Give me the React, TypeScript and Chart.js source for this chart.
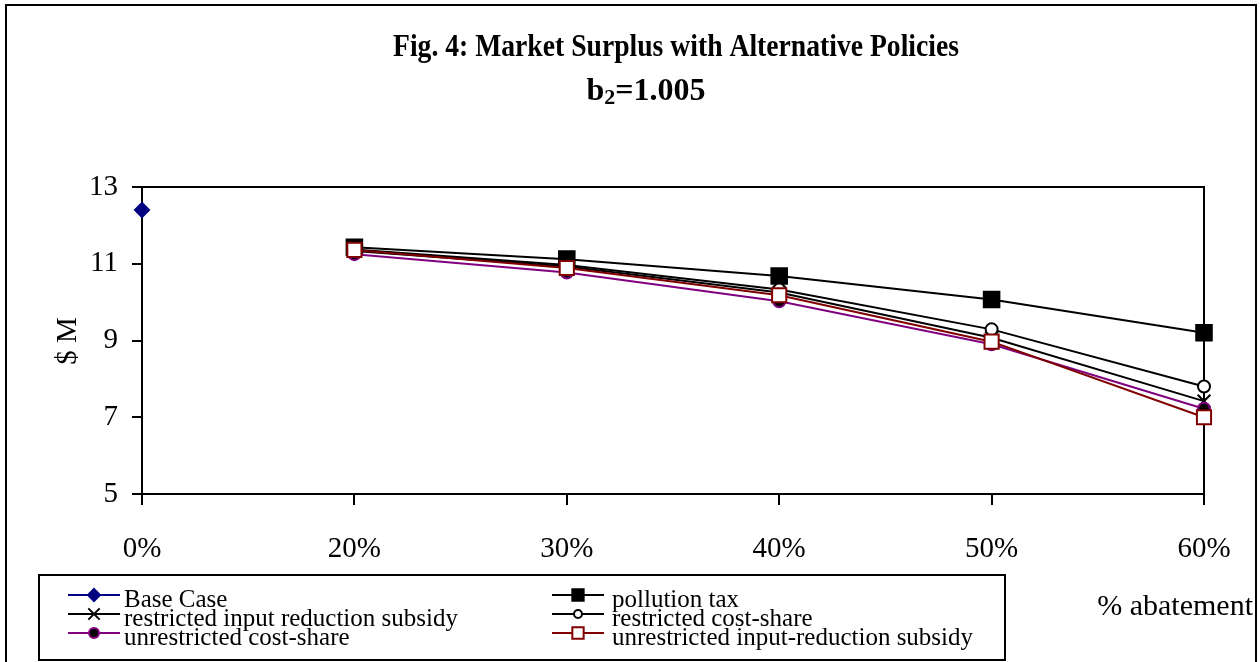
import React, { useEffect, useRef } from "react";
import { Chart, registerables } from "chart.js";

Chart.register(...registerables);

// ---- data ----
const categories = ["0%", "20%", "30%", "40%", "50%", "60%"];
const baseCase = [12.4, null, null, null, null, null];
const pollutionTax = [null, 11.43, 11.12, 10.68, 10.07, 9.2];
const restrictedInputSubsidy = [null, 11.33, 10.93, 10.25, 9.07, 7.42];
const restrictedCostShare = [null, 11.37, 10.97, 10.33, 9.29, 7.8];
const unrestrictedCostShare = [null, 11.25, 10.77, 10.02, 8.9, 7.22];
const unrestrictedInputSubsidy = [null, 11.36, 10.89, 10.18, 8.97, 7.0];
const yMin = 5;
const yMax = 13;
const yStep = 2;

const titleLine1 = "Fig. 4: Market Surplus with Alternative Policies";
const titleB = "b";
const titleSub = "2";
const titleRest = "=1.005";
const xTitle = "% abatement";
const yTitle = "$ M";

const FONT = "'Liberation Serif', 'Times New Roman', serif";

type Series = {
  label: string;
  data: (number | null)[];
  line: string;
  style: string;
  radius: number;
  legendRadius: number;
  fill: string;
  border: string;
};

const series: Series[] = [
  { label: "Base Case", data: baseCase, line: "#000080", style: "rectRot", radius: 7, legendRadius: 6, fill: "#000080", border: "#000080" },
  { label: "pollution tax", data: pollutionTax, line: "#000000", style: "rect", radius: 11, legendRadius: 8, fill: "#000000", border: "#000000" },
  { label: "restricted input reduction subsidy", data: restrictedInputSubsidy, line: "#000000", style: "crossRot", radius: 9, legendRadius: 8, fill: "#000000", border: "#000000" },
  { label: "restricted cost-share", data: restrictedCostShare, line: "#000000", style: "circle", radius: 6, legendRadius: 4, fill: "#ffffff", border: "#000000" },
  { label: "unrestricted cost-share", data: unrestrictedCostShare, line: "#800080", style: "circle", radius: 6, legendRadius: 5, fill: "#000000", border: "#800080" },
  { label: "unrestricted input-reduction subsidy", data: unrestrictedInputSubsidy, line: "#800000", style: "rect", radius: 10, legendRadius: 8, fill: "#ffffff", border: "#800000" },
];

function drawMarker(ctx: CanvasRenderingContext2D, s: Series, x: number, y: number, r: number) {
  ctx.save();
  ctx.lineWidth = 2;
  ctx.strokeStyle = s.border;
  ctx.fillStyle = s.fill;
  ctx.beginPath();
  if (s.style === "rectRot") {
    ctx.moveTo(x, y - r);
    ctx.lineTo(x + r, y);
    ctx.lineTo(x, y + r);
    ctx.lineTo(x - r, y);
    ctx.closePath();
    ctx.fill();
    ctx.stroke();
  } else if (s.style === "rect") {
    const h = r * Math.SQRT1_2;
    ctx.rect(x - h, y - h, 2 * h, 2 * h);
    ctx.fill();
    ctx.stroke();
  } else if (s.style === "crossRot") {
    const h = r * Math.SQRT1_2;
    ctx.moveTo(x - h, y - h);
    ctx.lineTo(x + h, y + h);
    ctx.moveTo(x + h, y - h);
    ctx.lineTo(x - h, y + h);
    ctx.stroke();
  } else {
    ctx.arc(x, y, r, 0, Math.PI * 2);
    ctx.fill();
    ctx.stroke();
  }
  ctx.restore();
}

// draws text centred at cx, squeezed horizontally to the given width
function fillFitted(ctx: CanvasRenderingContext2D, text: string, cx: number, y: number, width: number) {
  const w = ctx.measureText(text).width;
  const k = Math.min(1, width / w);
  ctx.save();
  ctx.translate(cx, y);
  ctx.scale(k, 1);
  ctx.textAlign = "center";
  ctx.fillText(text, 0, 0);
  ctx.restore();
}

const decorations = {
  id: "decorations",
  beforeDatasetsDraw(chart: any) {
    const { ctx, chartArea } = chart;
    ctx.save();
    ctx.strokeStyle = "#000";
    ctx.lineWidth = 2;
    ctx.beginPath();
    ctx.moveTo(chartArea.left, chartArea.top);
    ctx.lineTo(chartArea.right, chartArea.top);
    ctx.lineTo(chartArea.right, chartArea.bottom);
    ctx.stroke();
    ctx.restore();
  },
  afterDraw(chart: any) {
    const { ctx } = chart;
    ctx.save();
    // outer frame
    ctx.strokeStyle = "#000";
    ctx.lineWidth = 2;
    ctx.strokeRect(6, 5, 1250, 720);

    // title
    ctx.fillStyle = "#000";
    ctx.textBaseline = "alphabetic";
    ctx.font = `bold 31px ${FONT}`;
    fillFitted(ctx, titleLine1, 676, 56, 566);

    const mainFont = `bold 32px ${FONT}`;
    const subFont = `bold 22px ${FONT}`;
    ctx.font = mainFont;
    const wB = ctx.measureText(titleB).width;
    const wR = ctx.measureText(titleRest).width;
    ctx.font = subFont;
    const wS = ctx.measureText(titleSub).width;
    const total = wB + wS + wR;
    const x0 = 646 - total / 2;
    ctx.textAlign = "left";
    ctx.font = mainFont;
    ctx.fillText(titleB, x0, 100);
    ctx.font = subFont;
    ctx.fillText(titleSub, x0 + wB, 104);
    ctx.font = mainFont;
    ctx.fillText(titleRest, x0 + wB + wS, 100);

    // axis titles
    ctx.font = `30px ${FONT}`;
    ctx.textAlign = "right";
    ctx.fillText(xTitle, 1253, 615);
    ctx.font = `29px ${FONT}`;
    ctx.save();
    ctx.translate(76, 341);
    ctx.rotate(-Math.PI / 2);
    ctx.textAlign = "center";
    ctx.fillText(yTitle, 0, 0);
    ctx.restore();

    // legend
    ctx.lineWidth = 2;
    ctx.strokeStyle = "#000";
    ctx.strokeRect(39, 575, 966, 85);
    const colMarker = [94, 578];
    const colText = [124, 612];
    const rowBase = [607, 626, 645];
    ctx.font = `25px ${FONT}`;
    ctx.textAlign = "left";
    series.forEach((s, i) => {
      const col = i % 2;
      const row = Math.floor(i / 2);
      const my = rowBase[row] - 12;
      const mx = colMarker[col];
      ctx.strokeStyle = s.line;
      ctx.lineWidth = 2;
      ctx.beginPath();
      ctx.moveTo(mx - 26, my);
      ctx.lineTo(mx + 26, my);
      ctx.stroke();
      drawMarker(ctx, s, mx, my, s.legendRadius);
      ctx.fillStyle = "#000";
      ctx.fillText(s.label, colText[col], rowBase[row]);
    });
    ctx.restore();
  },
};

export default function App() {
  const canvasRef = useRef<HTMLCanvasElement | null>(null);

  useEffect(() => {
    document.body.style.margin = "0";
    const canvas = canvasRef.current;
    if (!canvas) return;
    const n = series.length;
    const chart = new Chart(canvas, {
      type: "line",
      data: {
        labels: categories,
        datasets: series.map((s, i) => ({
          label: s.label,
          data: s.data,
          borderColor: s.line,
          borderWidth: 2,
          backgroundColor: s.fill,
          pointStyle: s.style as any,
          pointRadius: s.radius,
          pointBorderWidth: 2,
          pointBackgroundColor: s.fill,
          pointBorderColor: s.border,
          pointHoverRadius: s.radius,
          spanGaps: false,
          tension: 0,
          fill: false,
          clip: false as any,
          order: n - i,
        })),
      },
      options: {
        animation: false,
        responsive: false,
        maintainAspectRatio: false,
        devicePixelRatio: 1,
        events: [],
        layout: { padding: { left: 0, right: 56, top: 187, bottom: 0 } },
        plugins: {
          legend: { display: false },
          tooltip: { enabled: false },
          title: { display: false },
        },
        scales: {
          x: {
            type: "category",
            offset: false,
            grid: {
              offset: false,
              drawOnChartArea: false,
              drawTicks: true,
              tickLength: 11,
              color: "#000",
              lineWidth: 2,
            },
            border: { color: "#000", width: 2 },
            ticks: {
              color: "#000",
              font: { family: FONT, size: 29 },
              padding: 27,
              maxRotation: 0,
              autoSkip: false,
            },
            afterFit: (s: any) => {
              s.height = 168;
            },
          },
          y: {
            min: yMin,
            max: yMax,
            grid: {
              drawOnChartArea: false,
              drawTicks: true,
              tickLength: 10,
              color: "#000",
              lineWidth: 2,
            },
            border: { color: "#000", width: 2 },
            ticks: {
              stepSize: yStep,
              color: "#000",
              font: { family: FONT, size: 29 },
              padding: 14,
            },
            afterFit: (s: any) => {
              s.width = 142;
            },
          },
        },
      },
      plugins: [decorations],
    });
    return () => chart.destroy();
  }, []);

  return (
    <div style={{ width: 1260, height: 662, background: "#fff" }}>
      <canvas ref={canvasRef} width={1260} height={662} style={{ display: "block", width: 1260, height: 662 }} />
    </div>
  );
}
